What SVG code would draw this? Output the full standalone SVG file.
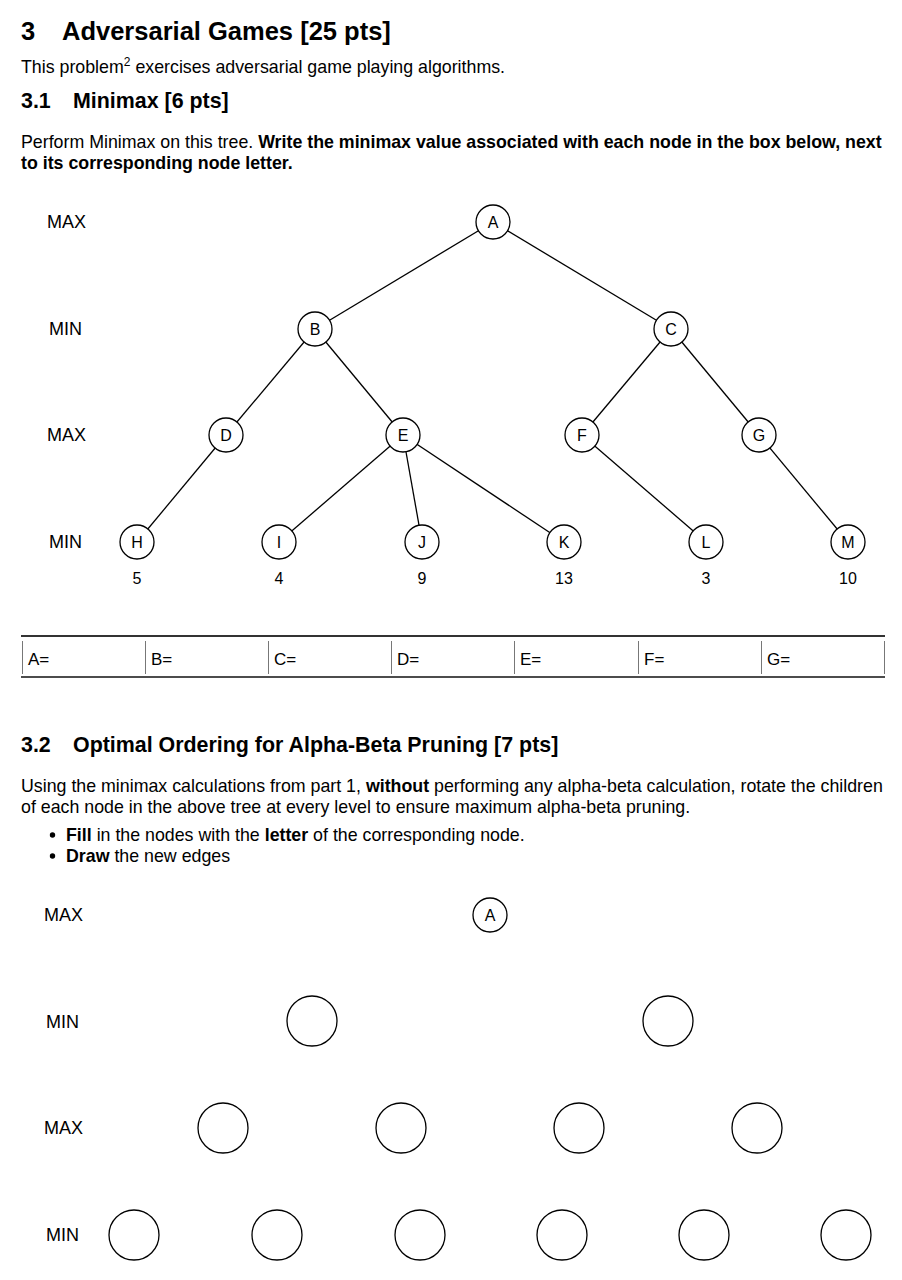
<svg xmlns="http://www.w3.org/2000/svg" width="902" height="1280" viewBox="0 0 902 1280">
<style>
text{font-family:"Liberation Sans",Arial,sans-serif;fill:#000}
.h1{font-size:25.5px;font-weight:bold}
.h2{font-size:21.4px;font-weight:bold}
.p{font-size:17.8px}
.b{font-weight:bold}
.lvl{font-size:18px}
.nl{font-size:16px;text-anchor:middle}
.val{font-size:16px;text-anchor:middle}
.cell{font-size:17px}
.n{fill:#fff;stroke:#000;stroke-width:1.3}
.e{stroke:#000;stroke-width:1.3;fill:none}
.vl{stroke:#777;stroke-width:1}
</style>
<rect width="902" height="1280" fill="#fff"/>
<text class="h1" x="21" y="40">3</text>
<text class="h1" x="62" y="40">Adversarial Games [25 pts]</text>
<text class="p" x="21" y="73">This problem<tspan font-size="12" dy="-7">2</tspan><tspan dy="7"> exercises adversarial game playing algorithms.</tspan></text>
<text class="h2" x="21" y="108">3.1</text>
<text class="h2" x="73" y="108">Minimax [6 pts]</text>
<text class="p" x="21" y="148">Perform Minimax on this tree. <tspan class="b">Write the minimax value associated with each node in the box below, next</tspan></text>
<text class="p b" x="21" y="169">to its corresponding node letter.</text>

<g id="levels1">
<text class="lvl" x="47" y="228">MAX</text>
<text class="lvl" x="49" y="335">MIN</text>
<text class="lvl" x="47" y="441">MAX</text>
<text class="lvl" x="49" y="548">MIN</text>
</g>
<g id="connectors1">
<line class="e" x1="493" y1="222" x2="315" y2="329"/>
<line class="e" x1="493" y1="222" x2="671" y2="329"/>
<line class="e" x1="315" y1="329" x2="226" y2="435"/>
<line class="e" x1="315" y1="329" x2="403" y2="435"/>
<line class="e" x1="671" y1="329" x2="582" y2="435"/>
<line class="e" x1="671" y1="329" x2="759" y2="435"/>
<line class="e" x1="226" y1="435" x2="137" y2="542"/>
<line class="e" x1="403" y1="435" x2="279" y2="542"/>
<line class="e" x1="403" y1="435" x2="422" y2="542"/>
<line class="e" x1="403" y1="435" x2="564" y2="542"/>
<line class="e" x1="582" y1="435" x2="706" y2="542"/>
<line class="e" x1="759" y1="435" x2="848" y2="542"/>
</g>
<g id="nA"><circle class="n" cx="493" cy="222" r="17"/><text class="nl" x="493" y="228">A</text></g>
<g id="nB"><circle class="n" cx="315" cy="329" r="17"/><text class="nl" x="315" y="335">B</text></g>
<g id="nC"><circle class="n" cx="671" cy="329" r="17"/><text class="nl" x="671" y="335">C</text></g>
<g id="nD"><circle class="n" cx="226" cy="435" r="17"/><text class="nl" x="226" y="441">D</text></g>
<g id="nE"><circle class="n" cx="403" cy="435" r="17"/><text class="nl" x="403" y="441">E</text></g>
<g id="nF"><circle class="n" cx="582" cy="435" r="17"/><text class="nl" x="582" y="441">F</text></g>
<g id="nG"><circle class="n" cx="759" cy="435" r="17"/><text class="nl" x="759" y="441">G</text></g>
<g id="nH"><circle class="n" cx="137" cy="542" r="17"/><text class="nl" x="137" y="548">H</text><text class="val" x="137" y="584">5</text></g>
<g id="nI"><circle class="n" cx="279" cy="542" r="17"/><text class="nl" x="279" y="548">I</text><text class="val" x="279" y="584">4</text></g>
<g id="nJ"><circle class="n" cx="422" cy="542" r="17"/><text class="nl" x="422" y="548">J</text><text class="val" x="422" y="584">9</text></g>
<g id="nK"><circle class="n" cx="564" cy="542" r="17"/><text class="nl" x="564" y="548">K</text><text class="val" x="564" y="584">13</text></g>
<g id="nL"><circle class="n" cx="706" cy="542" r="17"/><text class="nl" x="706" y="548">L</text><text class="val" x="706" y="584">3</text></g>
<g id="nM"><circle class="n" cx="848" cy="542" r="17"/><text class="nl" x="848" y="548">M</text><text class="val" x="848" y="584">10</text></g>

<g id="table">
<line x1="21" y1="636" x2="885" y2="636" stroke="#333" stroke-width="2"/>
<line x1="21" y1="677" x2="885" y2="677" stroke="#111" stroke-width="1.5"/>
<line class="vl" x1="22.5" y1="641" x2="22.5" y2="674"/>
<line class="vl" x1="145.5" y1="641" x2="145.5" y2="674"/>
<line class="vl" x1="268.5" y1="641" x2="268.5" y2="674"/>
<line class="vl" x1="391.5" y1="641" x2="391.5" y2="674"/>
<line class="vl" x1="514.5" y1="641" x2="514.5" y2="674"/>
<line class="vl" x1="638.5" y1="641" x2="638.5" y2="674"/>
<line class="vl" x1="761.5" y1="641" x2="761.5" y2="674"/>
<line class="vl" x1="884.5" y1="641" x2="884.5" y2="674"/>
<text class="cell" x="28" y="665">A=</text>
<text class="cell" x="151" y="665">B=</text>
<text class="cell" x="274" y="665">C=</text>
<text class="cell" x="397" y="665">D=</text>
<text class="cell" x="520" y="665">E=</text>
<text class="cell" x="644" y="665">F=</text>
<text class="cell" x="767" y="665">G=</text>
</g>

<text class="h2" x="21" y="752">3.2</text>
<text class="h2" x="73" y="752">Optimal Ordering for Alpha-Beta Pruning [7 pts]</text>
<text class="p" x="21" y="792">Using the minimax calculations from part 1, <tspan class="b">without</tspan> performing any alpha-beta calculation, rotate the children</text>
<text class="p" x="21" y="813">of each node in the above tree at every level to ensure maximum alpha-beta pruning.</text>
<circle cx="52.5" cy="835" r="2.7" fill="#000"/>
<text class="p" x="66" y="841"><tspan class="b">Fill</tspan> in the nodes with the <tspan class="b">letter</tspan> of the corresponding node.</text>
<circle cx="52.5" cy="856" r="2.7" fill="#000"/>
<text class="p" x="66" y="862"><tspan class="b">Draw</tspan> the new edges</text>

<g id="levels2">
<text class="lvl" x="44" y="921">MAX</text>
<text class="lvl" x="46" y="1028">MIN</text>
<text class="lvl" x="44" y="1134">MAX</text>
<text class="lvl" x="46" y="1241">MIN</text>
</g>
<g id="t2A"><circle class="n" cx="490" cy="915" r="17"/><text class="nl" x="490" y="921">A</text></g>
<g id="t2m1"><circle class="n" cx="312" cy="1021" r="25"/></g>
<g id="t2m2"><circle class="n" cx="668" cy="1021" r="25"/></g>
<g id="t2x1"><circle class="n" cx="223" cy="1128" r="25"/></g>
<g id="t2x2"><circle class="n" cx="401" cy="1128" r="25"/></g>
<g id="t2x3"><circle class="n" cx="579" cy="1128" r="25"/></g>
<g id="t2x4"><circle class="n" cx="757" cy="1128" r="25"/></g>
<g id="t2n1"><circle class="n" cx="134" cy="1235" r="25"/></g>
<g id="t2n2"><circle class="n" cx="277" cy="1235" r="25"/></g>
<g id="t2n3"><circle class="n" cx="420" cy="1235" r="25"/></g>
<g id="t2n4"><circle class="n" cx="562" cy="1235" r="25"/></g>
<g id="t2n5"><circle class="n" cx="704" cy="1235" r="25"/></g>
<g id="t2n6"><circle class="n" cx="846" cy="1235" r="25"/></g>
</svg>
